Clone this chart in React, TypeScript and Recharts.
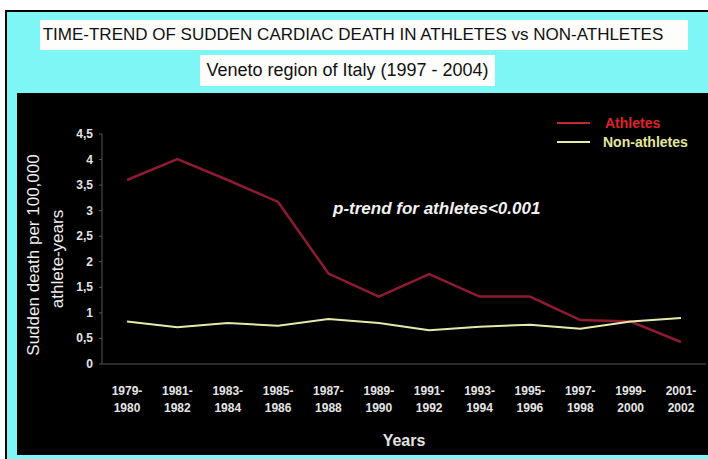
import React from 'react';
import { LineChart, Line, XAxis, YAxis, Legend } from 'recharts';

const periods = [
  '1979-1980', '1981-1982', '1983-1984', '1985-1986', '1987-1988', '1989-1990',
  '1991-1992', '1993-1994', '1995-1996', '1997-1998', '1999-2000', '2001-2002',
];
const athletes = [3.6, 4.01, 3.6, 3.17, 1.77, 1.32, 1.76, 1.32, 1.32, 0.86, 0.83, 0.43];
const nonAthletes = [0.83, 0.72, 0.8, 0.75, 0.88, 0.8, 0.66, 0.73, 0.77, 0.69, 0.83, 0.9];
const yTicks = [0, 0.5, 1, 1.5, 2, 2.5, 3, 3.5, 4, 4.5];

const data = periods.map((p, i) => ({ period: p, athletes: athletes[i], nonAthletes: nonAthletes[i] }));

const FONT = '"Liberation Sans", Arial, sans-serif';
const RED = '#8e1b30';
const YELLOW = '#e6eaa8';

const XTick = (props: any) => {
  const { x, y, payload } = props;
  const [a, b] = payload.value.split('-');
  return (
    <g>
      <text x={x} y={y + 23} textAnchor="middle" fill="#e4e4e4" fontSize={12} fontWeight="bold" fontFamily={FONT}>{a}-</text>
      <text x={x} y={y + 40} textAnchor="middle" fill="#e4e4e4" fontSize={12} fontWeight="bold" fontFamily={FONT}>{b}</text>
    </g>
  );
};

const YTick = (props: any) => {
  const { x, y, payload } = props;
  return (
    <text x={x - 4} y={y + 4} textAnchor="end" fill="#e4e4e4" fontSize={12} fontWeight="bold" fontFamily={FONT}>
      {String(payload.value).replace('.', ',')}
    </text>
  );
};

const YLabel = (props: any) => {
  const vb = props.viewBox;
  const cy = vb.y + vb.height / 2 + 6;
  return (
    <g>
      <text transform={`translate(22, ${cy}) rotate(-90)`} textAnchor="middle" fill="#eeeeee" fontSize={17} fontFamily={FONT}>
        Sudden death per 100,000
      </text>
      <text transform={`translate(46, ${cy + 4}) rotate(-90)`} textAnchor="middle" fill="#eeeeee" fontSize={17} fontFamily={FONT}>
        athlete-years
      </text>
    </g>
  );
};

const LegendBox = () => (
  <div style={{ fontFamily: FONT, fontWeight: 'bold', fontSize: 14 }}>
    <div style={{ display: 'flex', alignItems: 'center', height: 19 }}>
      <span style={{ width: 33, height: 2, background: '#c0283a', display: 'inline-block', marginRight: 15 }} />
      <span style={{ color: '#e0202c' }}>Athletes</span>
    </div>
    <div style={{ display: 'flex', alignItems: 'center', height: 19 }}>
      <span style={{ width: 33, height: 2, background: YELLOW, display: 'inline-block', marginRight: 13 }} />
      <span style={{ color: '#e4e89c' }}>Non-athletes</span>
    </div>
  </div>
);

export default function App() {
  return (
    <div style={{ position: 'absolute', left: 0, top: 0, width: 708, height: 459, background: '#fff', overflow: 'hidden' }}>
      <div style={{ position: 'absolute', left: 5, top: 10, width: 720, height: 470, background: '#7ef6f6', border: '2px solid #000' }} />
      <div style={{ position: 'absolute', left: 40, top: 20, width: 648, height: 30, background: '#fdfdfb' }} />
      <div style={{ position: 'absolute', left: 40, top: 20, width: 648, height: 30, display: 'flex', alignItems: 'center', justifyContent: 'center', fontFamily: FONT, fontSize: 17, color: '#111', whiteSpace: 'nowrap' }}>
        <span style={{ display: 'inline-block', transform: 'translateX(-11px)' }}>TIME-TREND OF SUDDEN CARDIAC DEATH IN ATHLETES vs NON-ATHLETES</span>
      </div>
      <div style={{ position: 'absolute', left: 200, top: 55, width: 295, height: 31, background: '#fdfdfb', display: 'flex', alignItems: 'center', justifyContent: 'center', fontFamily: FONT, fontSize: 18, color: '#111', whiteSpace: 'nowrap' }}>
        Veneto region of Italy (1997 - 2004)
      </div>
      <div style={{ position: 'absolute', left: 17, top: 93, width: 700, height: 362, background: '#000' }}>
        <LineChart width={691} height={362} data={data} margin={{ top: 41, right: 2, bottom: 0, left: 0 }}>
          <XAxis
            dataKey="period"
            height={91}
            interval={0}
            padding={{ left: 25, right: 25 }}
            stroke="#555"
            tickLine={false}
            tick={<XTick />}
            label={{ value: 'Years', position: 'insideBottom', offset: 9, fill: '#e4e4e4', fontSize: 16, fontWeight: 'bold', fontFamily: FONT }}
          />
          <YAxis
            width={85}
            domain={[0, 4.5]}
            ticks={yTicks}
            interval={0}
            stroke="#555"
            tickSize={3}
            tick={<YTick />}
            label={<YLabel />}
          />
          <Legend layout="horizontal" verticalAlign="middle" align="center" content={<LegendBox />} wrapperStyle={{ top: 20, left: 540, width: 160 }} />
          <Line dataKey="athletes" stroke={RED} strokeWidth={2.5} dot={false} isAnimationActive={false} />
          <Line dataKey="nonAthletes" stroke={YELLOW} strokeWidth={2} dot={false} isAnimationActive={false} />
        </LineChart>
        <div style={{ position: 'absolute', left: 316, top: 106, fontFamily: FONT, fontSize: 17, fontStyle: 'italic', fontWeight: 'bold', color: '#f2f2f2', whiteSpace: 'nowrap' }}>
          p-trend for athletes&lt;0.001
        </div>
      </div>
    </div>
  );
}
